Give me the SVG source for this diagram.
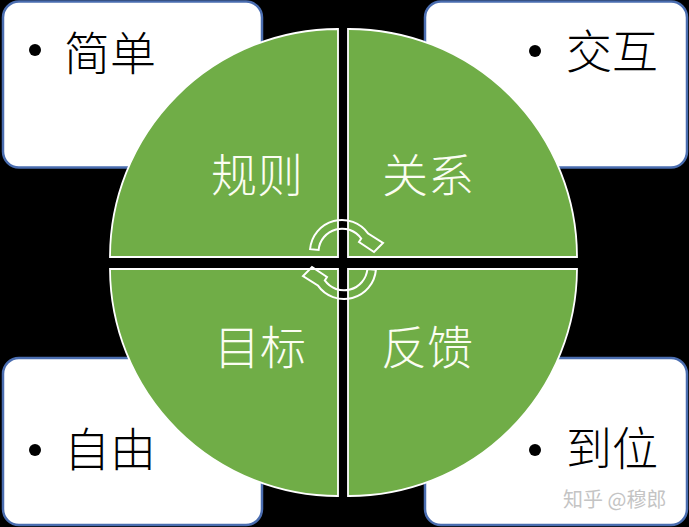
<svg xmlns="http://www.w3.org/2000/svg" width="689" height="527" viewBox="0 0 689 527">
<style>
.box{fill:#ffffff;stroke:#4a6db0;stroke-width:2.5}
.quad{fill:#70ad47;stroke:#ffffff;stroke-width:1.8}
.btxt{font-family:"Noto Sans CJK SC","Noto Sans",sans-serif;font-size:46px;font-weight:300;fill:#000000}
.qtxt{font-family:"Noto Sans CJK SC","Noto Sans",sans-serif;font-size:46px;font-weight:300;fill:#fbfdf2}
.arr{fill:none;stroke:#ffffff;stroke-width:2;stroke-linejoin:miter}
.bul{fill:#000000}
</style>
<defs>
<path id="carrow" d="M -31.9,-2.8 A 32 32 0 0 1 26.2,-18.4 L 41,-9 L 32,0 L 17,-10 L 19.2,-13.4 A 23.5 23.5 0 0 0 -23.4,-2.0 Z"/>
</defs>
<rect x="0" y="0" width="689" height="527" fill="#000000"/>

<g id="box-jiandan">
<rect class="box" x="3" y="1.5" width="259" height="166" rx="16"/>
<circle class="bul" cx="35" cy="50" r="6"/>
<text class="btxt" x="64" y="70">简单</text>
</g>
<g id="box-jiaohu">
<rect class="box" x="425" y="1.5" width="262" height="166" rx="16"/>
<circle class="bul" cx="535" cy="51" r="6"/>
<text class="btxt" x="566" y="68">交互</text>
</g>
<g id="box-ziyou">
<rect class="box" x="3" y="358" width="259" height="167" rx="16"/>
<circle class="bul" cx="35" cy="450" r="6"/>
<text class="btxt" x="64" y="466">自由</text>
</g>
<g id="box-daowei">
<rect class="box" x="425" y="358" width="262" height="167" rx="16"/>
<circle class="bul" cx="535" cy="450" r="6"/>
<text class="btxt" x="566" y="465">到位</text>
</g>

<g id="quad-guize">
<path class="quad" d="M 338,257 L 110,257 A 228 228 0 0 1 338,29 Z"/>
<text class="qtxt" x="211" y="192">规则</text>
</g>
<g id="quad-guanxi">
<path class="quad" d="M 348,257 L 348,29 A 228 228 0 0 1 577,257 Z"/>
<text class="qtxt" x="382" y="192">关系</text>
</g>
<g id="quad-mubiao">
<path class="quad" d="M 338,269 L 338,496 A 228 228 0 0 1 110,269 Z"/>
<text class="qtxt" x="214" y="364">目标</text>
</g>
<g id="quad-fankui">
<path class="quad" d="M 348,269 L 577,269 A 228 228 0 0 1 348,496 Z"/>
<text class="qtxt" x="381" y="364">反馈</text>
</g>

<g id="connectors">
<use href="#carrow" class="arr" transform="translate(342,252)"/>
<use href="#carrow" class="arr" transform="translate(344,267) rotate(180)"/>
</g>

<text x="563" y="507" font-family="Noto Sans CJK SC, Noto Sans, sans-serif" font-size="20" fill="#c4c4c4">知乎 @穆郎</text>
</svg>
